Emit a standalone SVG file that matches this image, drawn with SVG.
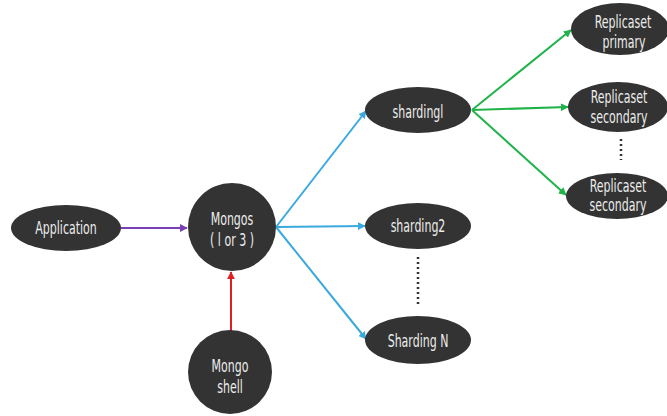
<svg xmlns="http://www.w3.org/2000/svg" width="667" height="416" viewBox="0 0 667 416">
<style>
.n{fill:#333333;}
.t{fill:#ececec;font-family:"DejaVu Sans Condensed","DejaVu Sans",sans-serif;font-stretch:condensed;font-size:18px;text-anchor:middle;}
.c{fill:none;stroke-width:2;}
.dots{stroke:#333;stroke-width:2.5;stroke-dasharray:2 3;fill:none;}
</style>
<defs>
<marker id="ap" viewBox="0 0 10 10" refX="9" refY="5" markerWidth="4" markerHeight="4" orient="auto"><path d="M0,0L10,5L0,10z" fill="#7b3fb5"/></marker>
<marker id="ar" viewBox="0 0 10 10" refX="9" refY="5" markerWidth="4" markerHeight="4" orient="auto"><path d="M0,0L10,5L0,10z" fill="#e02020"/></marker>
<marker id="ab" viewBox="0 0 10 10" refX="9" refY="5" markerWidth="4" markerHeight="4" orient="auto"><path d="M0,0L10,5L0,10z" fill="#3aa9de"/></marker>
<marker id="ag" viewBox="0 0 10 10" refX="9" refY="5" markerWidth="4" markerHeight="4" orient="auto"><path d="M0,0L10,5L0,10z" fill="#1fb34a"/></marker>
</defs>
<g id="connectors">
<line class="c" x1="121" y1="228" x2="187" y2="228" stroke="#7b3fb5" marker-end="url(#ap)"/>
<line class="c" x1="231" y1="331" x2="231" y2="272" stroke="#e02020" marker-end="url(#ar)"/>
<line class="c" x1="276" y1="227" x2="366" y2="111" stroke="#3aa9de" marker-end="url(#ab)"/>
<line class="c" x1="276" y1="227" x2="365" y2="226" stroke="#3aa9de" marker-end="url(#ab)"/>
<line class="c" x1="276" y1="227" x2="366" y2="339" stroke="#3aa9de" marker-end="url(#ab)"/>
<line class="c" x1="472" y1="110" x2="571" y2="30" stroke="#1fb34a" marker-end="url(#ag)"/>
<line class="c" x1="472" y1="110" x2="568" y2="107" stroke="#1fb34a" marker-end="url(#ag)"/>
<line class="c" x1="472" y1="110" x2="566" y2="195" stroke="#1fb34a" marker-end="url(#ag)"/>
<line class="dots" x1="418" y1="257" x2="418" y2="306"/>
<line class="dots" x1="621" y1="139" x2="621" y2="160"/>
</g>
<g id="application"><ellipse class="n" cx="66" cy="228" rx="55" ry="23"/><text class="t" transform="translate(66,234) scale(0.68,1)">Application</text></g>
<g id="mongos"><circle class="n" cx="232" cy="227" r="44"/><text class="t" transform="translate(232,225) scale(0.68,1)">Mongos</text><text class="t" transform="translate(232,246) scale(0.68,1)">( l or 3 )</text></g>
<g id="mongo-shell"><circle class="n" cx="230" cy="372" r="42"/><text class="t" transform="translate(230,372) scale(0.68,1)">Mongo</text><text class="t" transform="translate(230,393) scale(0.68,1)">shell</text></g>
<g id="sharding1"><ellipse class="n" cx="418" cy="110" rx="53" ry="23"/><text class="t" transform="translate(418,118) scale(0.68,1)">shardingl</text></g>
<g id="sharding2"><ellipse class="n" cx="418" cy="226" rx="53" ry="23"/><text class="t" transform="translate(418,232) scale(0.68,1)">sharding2</text></g>
<g id="shardingN"><ellipse class="n" cx="418" cy="340" rx="53" ry="24"/><text class="t" transform="translate(418,347) scale(0.68,1)">Sharding N</text></g>
<g id="replica-primary"><ellipse class="n" cx="620" cy="29" rx="49" ry="26"/><text class="t" transform="translate(623,28) scale(0.68,1)">Replicaset</text><text class="t" transform="translate(624,48) scale(0.68,1)">primary</text></g>
<g id="replica-secondary1"><ellipse class="n" cx="618" cy="107" rx="50" ry="25"/><text class="t" transform="translate(619,103) scale(0.68,1)">Replicaset</text><text class="t" transform="translate(619,123) scale(0.68,1)">secondary</text></g>
<g id="replica-secondary2"><ellipse class="n" cx="617" cy="196" rx="51" ry="23"/><text class="t" transform="translate(618,192) scale(0.68,1)">Replicaset</text><text class="t" transform="translate(618,211) scale(0.68,1)">secondary</text></g>
</svg>
